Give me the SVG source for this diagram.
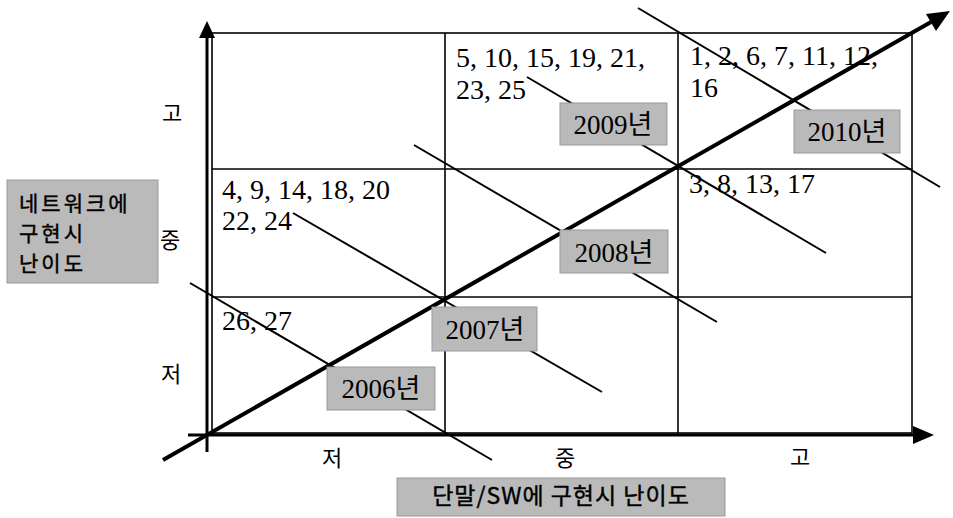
<svg xmlns="http://www.w3.org/2000/svg" width="953" height="518" viewBox="0 0 953 518">
<style>
  .grid { fill: none; stroke: #000; stroke-width: 1.6; }
  .axis { stroke: #000; stroke-width: 3; fill: none; }
  .diag { stroke: #000; stroke-width: 4; fill: none; }
  .tl { stroke: #000; stroke-width: 2; fill: none; }
  .head { fill: #000; }
  .num { font-family: "Liberation Serif", "Times New Roman", serif; font-size: 28px; fill: #000; }
  .yr { font-family: "Liberation Serif", "Noto Sans CJK KR", serif; font-size: 27px; fill: #000; }
  .ko { font-family: "Noto Sans CJK KR", "Noto Sans", sans-serif; font-size: 22px; fill: #000; }
  .lab { font-family: "Noto Sans CJK KR", "Noto Sans", sans-serif; font-size: 23px; fill: #000; stroke: #000; stroke-width: 0.4; }
  .lab2 { font-family: "Noto Sans CJK KR", "Noto Sans", sans-serif; font-size: 21px; fill: #000; stroke: #000; stroke-width: 0.4; letter-spacing: 3px; }
  .box { fill: #bababa; stroke: #999; stroke-width: 1; }
</style>
<rect width="953" height="518" fill="#fff"/>

<g id="grid">
  <rect class="grid" x="212" y="33" width="700" height="400"/>
  <line class="grid" x1="445" y1="33" x2="445" y2="433"/>
  <line class="grid" x1="678" y1="33" x2="678" y2="433"/>
  <line class="grid" x1="212" y1="169" x2="912" y2="169"/>
  <line class="grid" x1="212" y1="297" x2="912" y2="297"/>
</g>

<g id="connectors">
  <line class="axis" x1="207" y1="452" x2="207" y2="34"/>
  <polygon class="head" points="207,21 199,38 215,38"/>
  <line class="axis" x1="188" y1="435" x2="915" y2="435"/>
  <polygon class="head" points="934,435 913,426 913,444"/>
  <line class="diag" x1="163" y1="460" x2="931" y2="22"/>
  <polygon class="head" points="950,11 926,14 936,31"/>
  <line class="tl" x1="190" y1="283" x2="492" y2="460"/>
  <line class="tl" x1="293" y1="213" x2="602" y2="392"/>
  <line class="tl" x1="414" y1="145" x2="717" y2="322"/>
  <line class="tl" x1="527" y1="77" x2="826" y2="253"/>
  <line class="tl" x1="638" y1="8" x2="940" y2="187"/>
</g>

<g id="cell-r1c2">
  <text class="num" x="456" y="67">5, 10, 15, 19, 21,</text>
  <text class="num" x="456" y="99">23, 25</text>
</g>
<g id="cell-r1c3">
  <text class="num" x="690" y="65">1, 2, 6, 7, 11, 12,</text>
  <text class="num" x="690" y="97">16</text>
</g>
<g id="cell-r2c1">
  <text class="num" x="222" y="199">4, 9, 14, 18, 20</text>
  <text class="num" x="222" y="230">22, 24</text>
</g>
<g id="cell-r2c3">
  <text class="num" x="689" y="193">3, 8, 13, 17</text>
</g>
<g id="cell-r3c1">
  <text class="num" x="222" y="330">26, 27</text>
</g>

<g id="y2006">
  <rect class="box" x="327" y="367" width="108" height="43"/>
  <text class="yr" x="381" y="398" text-anchor="middle">2006년</text>
</g>
<g id="y2007">
  <rect class="box" x="432" y="307" width="105" height="44"/>
  <text class="yr" x="485" y="339" text-anchor="middle">2007년</text>
</g>
<g id="y2008">
  <rect class="box" x="560" y="230" width="108" height="43"/>
  <text class="yr" x="614" y="262" text-anchor="middle">2008년</text>
</g>
<g id="y2009">
  <rect class="box" x="560" y="103" width="107" height="42"/>
  <text class="yr" x="613" y="134" text-anchor="middle">2009년</text>
</g>
<g id="y2010">
  <rect class="box" x="794" y="110" width="106" height="43"/>
  <text class="yr" x="847" y="141" text-anchor="middle">2010년</text>
</g>

<g id="y-ticks">
  <text class="ko" x="172" y="121" text-anchor="middle">고</text>
  <text class="ko" x="170" y="248" text-anchor="middle">중</text>
  <text class="ko" x="171" y="382" text-anchor="middle">저</text>
</g>
<g id="x-ticks">
  <text class="ko" x="332" y="466" text-anchor="middle">저</text>
  <text class="ko" x="565" y="466" text-anchor="middle">중</text>
  <text class="ko" x="800" y="465" text-anchor="middle">고</text>
</g>

<g id="y-label">
  <rect class="box" x="7" y="180" width="151" height="103"/>
  <text class="lab2" x="19" y="211">네트워크에</text>
  <text class="lab2" x="19" y="241">구현시</text>
  <text class="lab2" x="19" y="271">난이도</text>
</g>
<g id="x-label">
  <rect class="box" x="397" y="478" width="328" height="38"/>
  <text class="lab" x="561" y="504" text-anchor="middle" letter-spacing="1">단말/SW에 구현시 난이도</text>
</g>
</svg>
